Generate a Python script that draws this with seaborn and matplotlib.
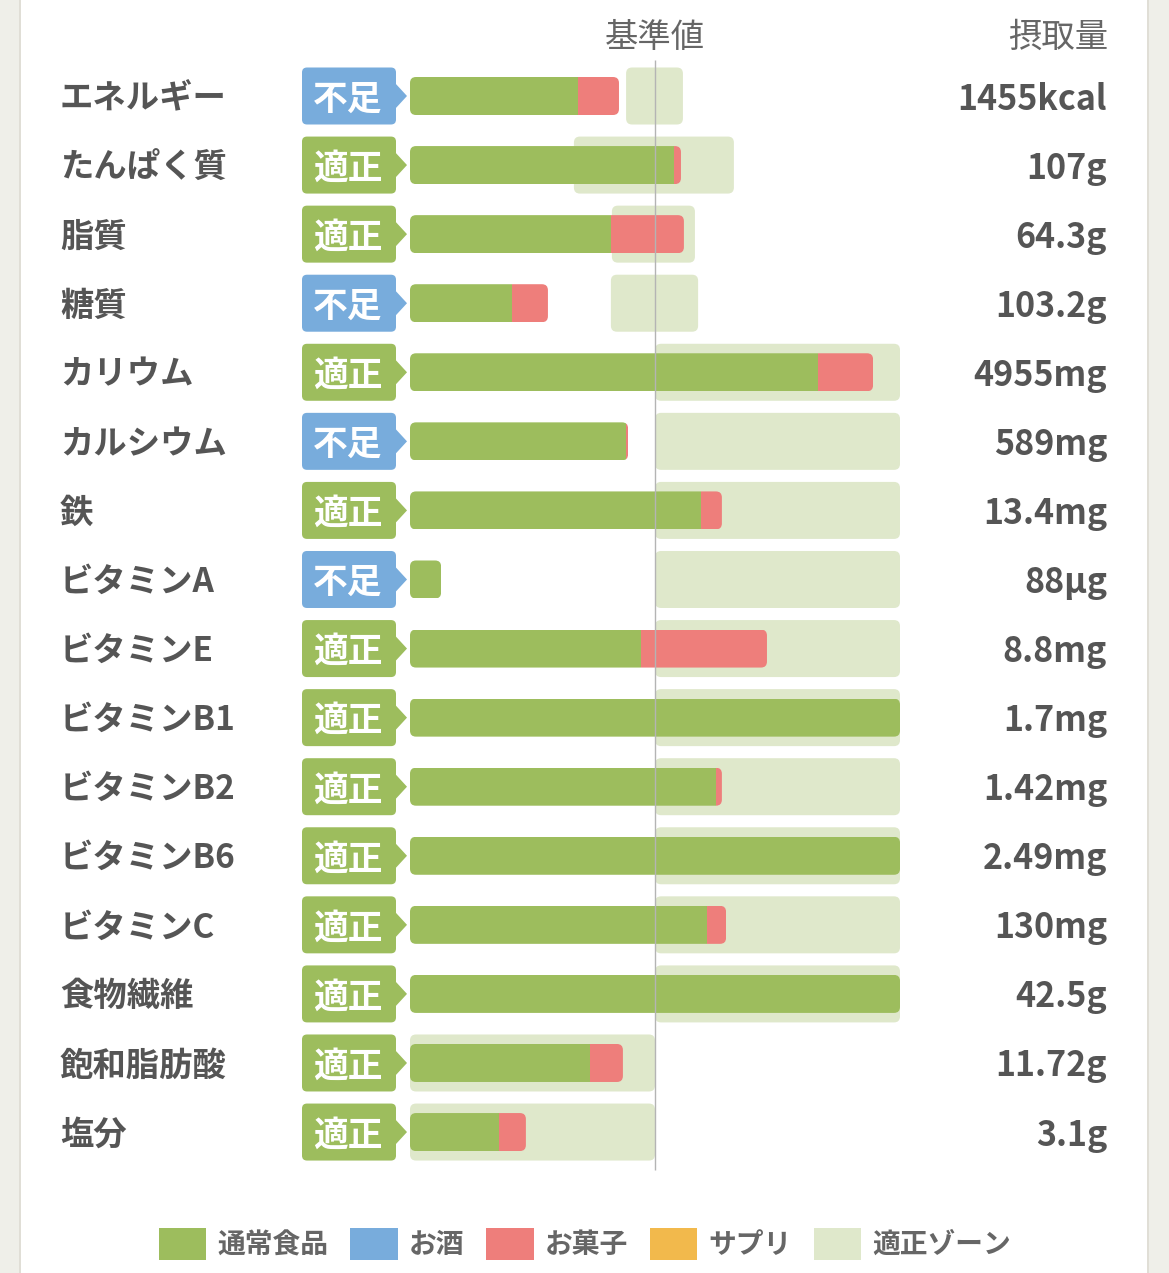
import pandas as pd
import matplotlib.pyplot as plt
import seaborn as sns
from matplotlib.patches import FancyBboxPatch, Polygon, Patch, Rectangle

# 栄養素ごとの値（基準値を100%とした割合）
nutrients = ['エネルギー', 'たんぱく質', '脂質', '糖質', 'カリウム', 'カルシウム', '鉄',
             'ビタミンA', 'ビタミンE', 'ビタミンB1', 'ビタミンB2', 'ビタミンB6',
             'ビタミンC', '食物繊維', '飽和脂肪酸', '塩分']
amounts = ['1455kcal', '107g', '64.3g', '103.2g', '4955mg', '589mg', '13.4mg', '88µg',
           '8.8mg', '1.7mg', '1.42mg', '2.49mg', '130mg', '42.5g', '11.72g', '3.1g']
status = ['不足', '適正', '適正', '不足', '適正', '不足', '適正', '不足',
          '適正', '適正', '適正', '適正', '適正', '適正', '適正', '適正']
food_pct = [68.6, 107.8, 82.0, 41.6, 166.5, 88.2, 118.8, 12.7,
            94.3, 200.0, 124.9, 200.0, 121.2, 200.0, 73.5, 36.3]
snack_pct = [16.7, 2.8, 29.8, 14.7, 22.5, 0.8, 8.5, 0.0,
             51.4, 0.0, 2.4, 0.0, 7.8, 0.0, 13.4, 11.0]
zone_lo = [88.2, 66.9, 82.4, 82.0, 100, 100, 100, 100,
           100, 100, 100, 100, 100, 100, 0, 0]
zone_hi = [111.4, 132.2, 116.3, 117.6, 200, 200, 200, 200,
           200, 200, 200, 200, 200, 200, 100, 100]
legend_labels = ['通常食品', 'お酒', 'お菓子', 'サプリ', '適正ゾーン']

GREEN = '#9dbd5d'
BLUE = '#78acdc'
RED = '#ee7e7b'
ORANGE = '#f2b94c'
ZONE = '#dfe8cb'
TEXT = '#555555'

# layout: pixel positions of the original picture
W, H = 1169, 1273
X0_PX, PX_PER_PCT = 410, 2.45
ROW0_PX, ROW_PX = 96, 69.07


def px2x(p):
    return (p - X0_PX) / PX_PER_PCT


def py2y(p):
    return (p - ROW0_PX) / ROW_PX


df = pd.DataFrame({
    'nutrient': nutrients,
    'food': food_pct,
    'total': [f + s for f, s in zip(food_pct, snack_pct)],
})

sns.set_theme(style='white')
plt.rcParams['font.family'] = ['Noto Sans CJK JP', 'DejaVu Sans']

fig = plt.figure(figsize=(W / 100, H / 100), dpi=100)
ax = fig.add_axes([0, 0, 1, 1])

# round corners with the same radius in x and y
aspect = (1 / ROW_PX) / (1 / PX_PER_PCT)
RAD = 6 / PX_PER_PCT


def rounded_shape(rect, color, z):
    x, y = rect.get_x(), rect.get_y()
    w, h = rect.get_width(), rect.get_height()
    return FancyBboxPatch((x, y), w, h, boxstyle=f'round,pad=0,rounding_size={RAD}',
                          mutation_aspect=aspect, fc=color, ec='none', zorder=z)


# 適正ゾーン
zone_bars = ax.barh(range(len(nutrients)), [h - l for l, h in zip(zone_lo, zone_hi)],
                    left=zone_lo, height=57 / ROW_PX)
for r in list(zone_bars):
    ax.add_patch(rounded_shape(r, ZONE, 1))
    r.remove()

# お菓子 (合計) と 通常食品 — both clipped by the rounded outline of the total bar
sns.barplot(data=df, y='nutrient', x='total', color=RED, saturation=1,
            width=38 / ROW_PX, orient='h', ax=ax)
red_bars = list(ax.containers[-1])
outlines = []
for r, f in zip(red_bars, food_pct):
    shape = rounded_shape(r, RED, 2)
    shape.set_transform(ax.transData)
    outlines.append(shape)
    r.set_x(f)
    r.set_width(r.get_width() - f)
    r.set_edgecolor('none')
    r.set_zorder(2)
    r.set_clip_path(shape)

sns.barplot(data=df, y='nutrient', x='food', color=GREEN, saturation=1,
            width=38 / ROW_PX, orient='h', ax=ax)
for r, clip in zip(ax.containers[-1], outlines):
    r.set_zorder(3)
    r.set_edgecolor('none')
    r.set_clip_path(clip)

# 基準値 line
ax.vlines(100, py2y(60), py2y(1170), color='#b4b4b4', lw=1, zorder=5)

# badges, labels, amounts
bh = 57 / ROW_PX
dy = 3 / ROW_PX
for i, (name, amt, st) in enumerate(zip(nutrients, amounts, status)):
    c = BLUE if st == '不足' else GREEN
    ax.add_patch(FancyBboxPatch((px2x(302), i - bh / 2), px2x(396) - px2x(302), bh,
                                boxstyle=f'round,pad=0,rounding_size={5 / PX_PER_PCT}',
                                mutation_aspect=aspect, fc=c, ec='none', zorder=4))
    ax.add_patch(Polygon([(px2x(395), i - 13 / ROW_PX), (px2x(407), i),
                          (px2x(395), i + 13 / ROW_PX)], closed=True, fc=c, ec='none', zorder=4))
    ax.text(px2x(348), i + dy, st, color='white', fontsize=25, fontweight='bold',
            ha='center', va='center', zorder=6)
    ax.text(px2x(60), i + dy, name, color=TEXT, fontsize=24, fontweight='bold',
            ha='left', va='center')
    ax.text(px2x(1107), i + dy, amt, color=TEXT, fontsize=24.5, fontweight='bold',
            ha='right', va='center')

ax.text(px2x(655), py2y(37), '基準値', color='#666666', fontsize=24, ha='center', va='center')
ax.text(px2x(1108), py2y(37), '摂取量', color='#666666', fontsize=24, ha='right', va='center')

ax.set_xlim(px2x(0), px2x(W))
ax.set_ylim(py2y(H), py2y(0))
ax.set_axis_off()

# side strips
fig.patches.append(Rectangle((0, 0), 19 / W, 1, transform=fig.transFigure,
                             fc='#efefe9', ec='none', zorder=0))
fig.patches.append(Rectangle((19 / W, 0), 2 / W, 1, transform=fig.transFigure,
                             fc='#e0ded6', ec='none', zorder=0))
fig.patches.append(Rectangle((1148 / W, 0), 21 / W, 1, transform=fig.transFigure,
                             fc='#efefe9', ec='none', zorder=0))
fig.patches.append(Rectangle((1147 / W, 0), 2 / W, 1, transform=fig.transFigure,
                             fc='#e0ded6', ec='none', zorder=0))

handles = [Patch(fc=c, ec='none', label=l)
           for c, l in zip([GREEN, BLUE, RED, ORANGE, ZONE], legend_labels)]
leg = fig.legend(handles=handles, loc='center', bbox_to_anchor=(585 / W, 1 - 1244 / H),
                 ncol=5, frameon=False, handlelength=1.7, handleheight=1.45,
                 handletextpad=0.4, columnspacing=0.8,
                 prop={'size': 20, 'weight': 'bold'})
for t in leg.get_texts():
    t.set_color('#666666')

fig.savefig('out.png', dpi=100)
